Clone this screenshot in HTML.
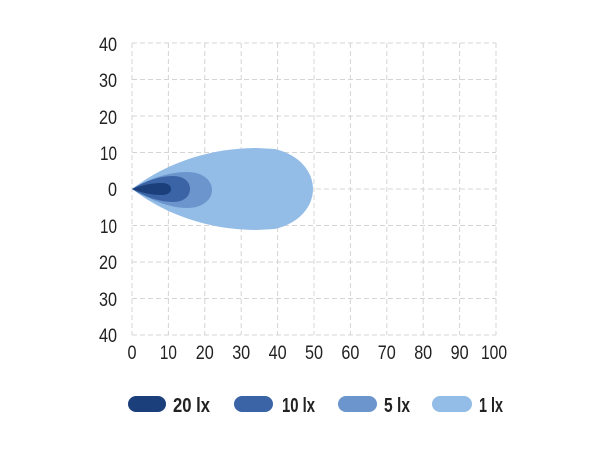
<!DOCTYPE html>
<html><head><style>
body{margin:0;background:#fff;width:610px;height:450px;overflow:hidden}
svg text{font-family:"Liberation Sans",sans-serif;fill:#222}
</style></head><body>
<svg width="610" height="450" viewBox="0 0 610 450">
<g stroke="#d4d4d4" stroke-width="1" stroke-dasharray="5,3" fill="none">
<line x1="132" y1="43" x2="496" y2="43"/><line x1="132" y1="79.5" x2="496" y2="79.5"/>
<line x1="132" y1="116" x2="496" y2="116"/><line x1="132" y1="152.5" x2="496" y2="152.5"/>
<line x1="132" y1="189" x2="496" y2="189"/><line x1="132" y1="225.5" x2="496" y2="225.5"/>
<line x1="132" y1="262" x2="496" y2="262"/><line x1="132" y1="298.5" x2="496" y2="298.5"/>
<line x1="132" y1="335" x2="496" y2="335"/>
<line x1="132" y1="43" x2="132" y2="335"/><line x1="168.4" y1="43" x2="168.4" y2="335"/>
<line x1="204.8" y1="43" x2="204.8" y2="335"/><line x1="241.2" y1="43" x2="241.2" y2="335"/>
<line x1="277.6" y1="43" x2="277.6" y2="335"/><line x1="314" y1="43" x2="314" y2="335"/>
<line x1="350.4" y1="43" x2="350.4" y2="335"/><line x1="386.8" y1="43" x2="386.8" y2="335"/>
<line x1="423.2" y1="43" x2="423.2" y2="335"/><line x1="459.6" y1="43" x2="459.6" y2="335"/>
<line x1="496" y1="43" x2="496" y2="335"/>
</g>
<path d="M132,189 C170,160 215,148 257,148 L275,149 C300,155 313,172 313,189 C313,206 300,223 275,229 L257,230 C215,230 170,218 132,189Z" fill="#93bde6"/>
<path d="M132,189 C150,178 170,172 187,172 C202,172 212,180 212,190 C212,200 202,208 187,208 C170,208 150,200 132,189Z" fill="#6b95cc"/>
<path d="M132,189 C145,181 160,176 173,176 C184,176 190,182 190,189 C190,196 184,202 173,202 C160,202 145,197 132,189Z" fill="#3a64a6"/>
<path d="M132,189 C142,185 152,183 162,183 C168,183 171,186 171,189 C171,192 168,195 162,195 C152,195 142,193 132,189Z" fill="#1a3f7a"/>
<g font-size="19" text-anchor="end">
<text x="117" y="51" textLength="18" lengthAdjust="spacingAndGlyphs">40</text>
<text x="117" y="87" textLength="18" lengthAdjust="spacingAndGlyphs">30</text>
<text x="117" y="124" textLength="18" lengthAdjust="spacingAndGlyphs">20</text>
<text x="117" y="160" textLength="17" lengthAdjust="spacingAndGlyphs">10</text>
<text x="117" y="196" textLength="9" lengthAdjust="spacingAndGlyphs">0</text>
<text x="117" y="233" textLength="17" lengthAdjust="spacingAndGlyphs">10</text>
<text x="117" y="269" textLength="18" lengthAdjust="spacingAndGlyphs">20</text>
<text x="117" y="306" textLength="18" lengthAdjust="spacingAndGlyphs">30</text>
<text x="117" y="342" textLength="18" lengthAdjust="spacingAndGlyphs">40</text>
</g>
<g font-size="19" text-anchor="middle">
<text x="132" y="359" textLength="9" lengthAdjust="spacingAndGlyphs">0</text>
<text x="168.4" y="359" textLength="17" lengthAdjust="spacingAndGlyphs">10</text>
<text x="204.8" y="359" textLength="18" lengthAdjust="spacingAndGlyphs">20</text>
<text x="241.2" y="359" textLength="18" lengthAdjust="spacingAndGlyphs">30</text>
<text x="277.6" y="359" textLength="18" lengthAdjust="spacingAndGlyphs">40</text>
<text x="314" y="359" textLength="18" lengthAdjust="spacingAndGlyphs">50</text>
<text x="350.4" y="359" textLength="18" lengthAdjust="spacingAndGlyphs">60</text>
<text x="386.8" y="359" textLength="18" lengthAdjust="spacingAndGlyphs">70</text>
<text x="423.2" y="359" textLength="18" lengthAdjust="spacingAndGlyphs">80</text>
<text x="459.6" y="359" textLength="18" lengthAdjust="spacingAndGlyphs">90</text>
<text x="494" y="359" textLength="26" lengthAdjust="spacingAndGlyphs">100</text>
</g>
<rect x="128" y="396" width="38" height="16" rx="8" fill="#1a3f7a"/>
<rect x="234" y="396" width="39" height="16" rx="8" fill="#3a64a6"/>
<rect x="338" y="396" width="39" height="16" rx="8" fill="#6b95cc"/>
<rect x="432" y="396" width="40" height="16" rx="8" fill="#93bde6"/>
<g font-size="20" font-weight="bold">
<text x="173" y="412" textLength="37" lengthAdjust="spacingAndGlyphs">20 lx</text>
<text x="282" y="412" textLength="33" lengthAdjust="spacingAndGlyphs">10 lx</text>
<text x="384" y="412" textLength="26" lengthAdjust="spacingAndGlyphs">5 lx</text>
<text x="479" y="412" textLength="24" lengthAdjust="spacingAndGlyphs">1 lx</text>
</g>
</svg>
</body></html>
